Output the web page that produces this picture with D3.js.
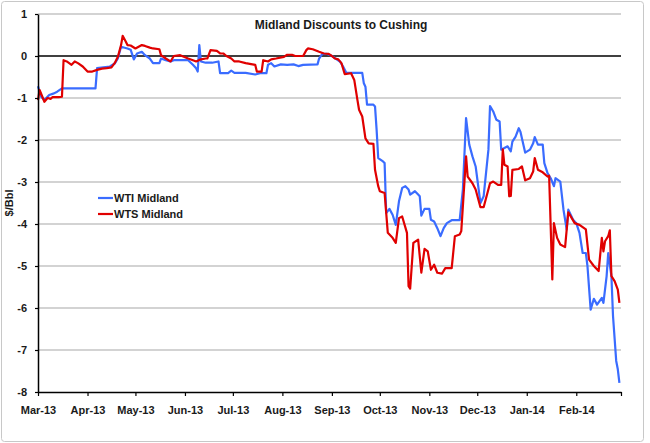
<!DOCTYPE html>
<html>
<head>
<meta charset="utf-8">
<script src="https://cdn.jsdelivr.net/npm/d3@7"></script>
<style>
  body { margin: 0; background: #fff; }
  svg text { font-family: "Liberation Sans", Arial, sans-serif; font-weight: bold; fill: #1a1a1a; }
</style>
</head>
<body>
<svg id="chart" width="650" height="443"></svg>
<script>
const title = 'Midland Discounts to Cushing';
const yTitle = '$/Bbl';
const seriesNames = ['WTI Midland', 'WTS Midland'];
const yTicks = [1, 0, -1, -2, -3, -4, -5, -6, -7, -8];
const monthTicks = ['2013-03-01', '2013-04-01', '2013-05-01', '2013-06-01', '2013-07-01', '2013-08-01',
  '2013-09-01', '2013-10-01', '2013-11-01', '2013-12-01', '2014-01-01', '2014-02-01', '2014-03-01'];

// WTI Midland
const wtiDates = ['2013-03-01', '2013-03-03', '2013-03-05', '2013-03-08', '2013-03-11', '2013-03-13', '2013-03-16',
  '2013-04-06', '2013-04-07', '2013-04-15', '2013-04-18', '2013-04-20', '2013-04-22', '2013-04-26', '2013-04-28',
  '2013-04-30', '2013-05-02', '2013-05-05', '2013-05-07', '2013-05-10', '2013-05-12', '2013-05-16', '2013-05-17',
  '2013-05-20', '2013-05-23', '2013-05-25', '2013-06-01', '2013-06-03', '2013-06-06', '2013-06-08', '2013-06-09',
  '2013-06-10', '2013-06-11', '2013-06-14', '2013-06-18', '2013-06-22', '2013-06-23', '2013-06-28', '2013-06-30',
  '2013-07-02', '2013-07-09', '2013-07-15', '2013-07-18', '2013-07-22', '2013-07-23', '2013-07-25', '2013-07-27',
  '2013-07-31', '2013-08-04', '2013-08-08', '2013-08-11', '2013-08-14', '2013-08-23', '2013-08-24', '2013-08-26',
  '2013-08-29', '2013-09-01', '2013-09-04', '2013-09-06', '2013-09-08', '2013-09-10', '2013-09-20', '2013-09-21',
  '2013-09-22', '2013-09-23', '2013-09-27', '2013-09-28', '2013-09-29', '2013-09-30', '2013-10-03', '2013-10-04',
  '2013-10-05', '2013-10-07', '2013-10-09', '2013-10-11', '2013-10-13', '2013-10-15', '2013-10-17', '2013-10-19',
  '2013-10-20', '2013-10-23', '2013-10-25', '2013-10-26', '2013-10-27', '2013-10-29', '2013-11-01', '2013-11-02',
  '2013-11-04', '2013-11-06', '2013-11-08', '2013-11-10', '2013-11-12', '2013-11-15', '2013-11-20', '2013-11-22',
  '2013-11-24', '2013-11-26', '2013-11-28', '2013-11-30', '2013-12-03', '2013-12-05', '2013-12-08', '2013-12-09',
  '2013-12-11', '2013-12-13', '2013-12-15', '2013-12-16', '2013-12-18', '2013-12-20', '2013-12-22', '2013-12-23',
  '2013-12-25', '2013-12-27', '2013-12-28', '2013-12-31', '2014-01-03', '2014-01-05', '2014-01-06', '2014-01-08',
  '2014-01-11', '2014-01-12', '2014-01-14', '2014-01-16', '2014-01-18', '2014-01-19', '2014-01-22', '2014-01-24',
  '2014-01-26', '2014-01-27', '2014-01-30', '2014-02-01', '2014-02-03', '2014-02-05', '2014-02-07', '2014-02-08',
  '2014-02-10', '2014-02-12', '2014-02-14', '2014-02-17', '2014-02-18', '2014-02-20', '2014-02-21', '2014-02-23',
  '2014-02-24', '2014-02-26', '2014-02-27', '2014-02-28'];
const wtiValues = [-0.72, -0.97, -1.05, -0.93, -0.89, -0.85, -0.77,
  -0.77, -0.29, -0.25, -0.18, -0.06, 0.22, 0.18, 0.15,
  -0.08, 0.06, 0.10, 0.02, -0.06, -0.17, -0.17, -0.06,
  -0.10, -0.13, -0.10, -0.10, -0.10, -0.21, -0.29, -0.37,
  0.26, -0.13, -0.16, -0.16, -0.13, -0.41, -0.41, -0.35,
  -0.40, -0.40, -0.44, -0.41, -0.41, -0.21, -0.17, -0.25,
  -0.20, -0.21, -0.20, -0.24, -0.21, -0.20, -0.06, 0.05,
  0.05, 0.00, -0.08, -0.13, -0.25, -0.40, -0.40, -0.65,
  -0.73, -1.16, -1.16, -1.20, -1.76, -2.43, -2.51, -2.55,
  -3.74, -3.64, -3.78, -4.02, -3.46, -3.14, -3.10, -3.18,
  -3.30, -3.22, -3.30, -3.34, -3.80, -3.64, -3.64, -3.90,
  -3.94, -4.10, -4.29, -4.10, -3.98, -3.91, -3.91, -3.18,
  -1.48, -2.11, -2.39, -2.63, -3.50, -3.34, -2.23, -1.19,
  -1.32, -1.52, -1.56, -2.23, -2.19, -2.15, -2.27, -2.04,
  -1.92, -1.72, -1.80, -2.30, -2.23, -2.08, -1.93, -2.11,
  -2.11, -2.55, -2.79, -2.91, -3.10, -2.91, -2.99, -3.66,
  -4.13, -3.66, -3.90, -3.98, -4.21, -4.69, -4.69, -5.00,
  -6.04, -5.78, -5.92, -5.76, -5.88, -5.24, -4.69, -5.24,
  -6.19, -7.26, -7.46, -7.78];

// WTS Midland
const wtsDates = ['2013-03-01', '2013-03-02', '2013-03-05', '2013-03-07', '2013-03-09', '2013-03-10', '2013-03-14',
  '2013-03-16', '2013-03-17', '2013-03-19', '2013-03-22', '2013-03-24', '2013-03-26', '2013-03-29', '2013-04-01',
  '2013-04-04', '2013-04-07', '2013-04-10', '2013-04-13', '2013-04-16', '2013-04-18', '2013-04-20', '2013-04-22',
  '2013-04-23', '2013-04-25', '2013-04-26', '2013-04-28', '2013-05-01', '2013-05-03', '2013-05-05', '2013-05-07',
  '2013-05-10', '2013-05-12', '2013-05-16', '2013-05-17', '2013-05-20', '2013-05-23', '2013-05-25', '2013-05-29',
  '2013-06-03', '2013-06-06', '2013-06-08', '2013-06-11', '2013-06-14', '2013-06-15', '2013-06-17', '2013-06-21',
  '2013-06-23', '2013-06-25', '2013-06-27', '2013-06-30', '2013-07-02', '2013-07-05', '2013-07-09', '2013-07-15',
  '2013-07-16', '2013-07-19', '2013-07-20', '2013-07-23', '2013-07-25', '2013-07-28', '2013-08-02', '2013-08-04',
  '2013-08-07', '2013-08-09', '2013-08-14', '2013-08-16', '2013-08-17', '2013-08-20', '2013-08-24', '2013-08-27',
  '2013-08-30', '2013-09-01', '2013-09-03', '2013-09-05', '2013-09-07', '2013-09-09', '2013-09-13', '2013-09-15',
  '2013-09-17', '2013-09-18', '2013-09-20', '2013-09-22', '2013-09-24', '2013-09-27', '2013-09-28', '2013-09-30',
  '2013-10-01', '2013-10-04', '2013-10-06', '2013-10-09', '2013-10-11', '2013-10-13', '2013-10-15', '2013-10-18',
  '2013-10-19', '2013-10-20', '2013-10-22', '2013-10-25', '2013-10-27', '2013-10-29', '2013-10-31', '2013-11-02',
  '2013-11-04', '2013-11-06', '2013-11-09', '2013-11-11', '2013-11-15', '2013-11-17', '2013-11-20', '2013-11-21',
  '2013-11-24', '2013-11-25', '2013-11-28', '2013-11-30', '2013-12-03', '2013-12-05', '2013-12-09', '2013-12-11',
  '2013-12-14', '2013-12-16', '2013-12-17', '2013-12-18', '2013-12-20', '2013-12-21', '2013-12-22', '2013-12-23',
  '2013-12-27', '2013-12-29', '2013-12-31', '2014-01-03', '2014-01-05', '2014-01-06', '2014-01-08', '2014-01-11',
  '2014-01-14', '2014-01-15', '2014-01-17', '2014-01-18', '2014-01-20', '2014-01-22', '2014-01-25', '2014-01-27',
  '2014-01-31', '2014-02-03', '2014-02-07', '2014-02-09', '2014-02-12', '2014-02-15', '2014-02-17', '2014-02-18',
  '2014-02-19', '2014-02-21', '2014-02-22', '2014-02-23', '2014-02-25', '2014-02-27', '2014-02-28'];
const wtsValues = [-1.05, -0.81, -1.09, -1.00, -1.02, -0.98, -0.98,
  -0.97, -0.10, -0.13, -0.21, -0.13, -0.17, -0.25, -0.37,
  -0.37, -0.33, -0.30, -0.29, -0.27, -0.17, -0.02, 0.26,
  0.48, 0.34, 0.26, 0.25, 0.18, 0.22, 0.26, 0.24,
  0.20, 0.18, 0.16, 0.02, -0.06, -0.13, 0.00, 0.02,
  -0.06, -0.10, -0.13, -0.08, -0.06, -0.06, 0.14, 0.12,
  0.06, 0.06, 0.00, -0.06, -0.13, -0.13, -0.17, -0.21,
  -0.37, -0.37, -0.10, -0.13, -0.08, -0.06, -0.02, 0.03,
  0.03, 0.00, 0.00, 0.14, 0.18, 0.16, 0.10, 0.06,
  0.05, 0.00, -0.06, -0.08, -0.17, -0.43, -0.41, -0.57,
  -1.05, -1.28, -1.44, -1.96, -2.08, -2.09, -2.71, -3.10,
  -3.22, -3.26, -4.21, -4.33, -4.45, -3.86, -3.82, -4.21,
  -5.48, -5.54, -4.45, -4.37, -5.16, -4.59, -4.65, -5.09,
  -4.97, -5.16, -5.18, -5.05, -5.05, -4.29, -4.25, -4.17,
  -2.39, -2.87, -3.03, -3.18, -3.60, -3.60, -3.03, -2.99,
  -3.07, -3.07, -2.22, -2.59, -2.63, -3.34, -3.33, -2.71,
  -2.69, -2.63, -2.96, -2.91, -2.75, -2.43, -2.71, -2.77,
  -2.87, -2.85, -5.32, -3.98, -4.33, -4.49, -4.55, -3.72,
  -3.98, -4.02, -4.13, -4.85, -5.00, -5.12, -4.33, -4.65,
  -4.41, -4.29, -4.15, -5.24, -5.36, -5.56, -5.88];

const colors = ['#3a6cff', '#e00000'];

const parse = d3.utcParse('%Y-%m-%d');
const series = [
  wtiDates.map((d, i) => ({ date: parse(d), value: wtiValues[i] })),
  wtsDates.map((d, i) => ({ date: parse(d), value: wtsValues[i] }))
];

const svg = d3.select('#chart');
const plotLeft = 38, plotRight = 621, plotTop = 14, plotBottom = 392;

// outer frame
svg.append('rect')
  .attr('x', 1.5).attr('y', 1.5)
  .attr('width', 642).attr('height', 440)
  .attr('rx', 3)
  .attr('fill', '#fff')
  .attr('stroke', '#c8c8c8');

const x = d3.scaleUtc()
  .domain([parse(monthTicks[0]), parse(monthTicks[monthTicks.length - 1])])
  .range([plotLeft, plotRight]);
const y = d3.scaleLinear().domain([-8, 1]).range([plotBottom, plotTop]);

// gridlines
svg.append('g')
  .selectAll('line')
  .data(yTicks.filter(v => v !== -8))
  .enter().append('line')
  .attr('x1', plotLeft).attr('x2', plotRight)
  .attr('y1', d => y(d)).attr('y2', d => y(d))
  .attr('stroke', d => d === 0 ? '#000' : '#c4c4c4')
  .attr('stroke-width', 1.3);

// lines
const line = d3.line().x(d => x(d.date)).y(d => y(d.value));
svg.append('g')
  .selectAll('path')
  .data(series)
  .enter().append('path')
  .attr('d', line)
  .attr('fill', 'none')
  .attr('stroke', (d, i) => colors[i])
  .attr('stroke-width', 2.2)
  .attr('stroke-linejoin', 'round');

// axes
const xAxis = d3.axisBottom(x)
  .tickValues(monthTicks.map(parse))
  .tickSize(4)
  .tickSizeOuter(0)
  .tickFormat((d, i) => i === monthTicks.length - 1 ? '' : d3.utcFormat('%b-%y')(d));
const gx = svg.append('g').attr('transform', `translate(0,${plotBottom})`).call(xAxis);
gx.select('.domain').attr('stroke', '#000').attr('stroke-width', 1.5);
gx.selectAll('.tick line').attr('stroke', '#000').attr('stroke-width', 1.2);
gx.selectAll('.tick text').attr('dy', 0).attr('y', 22).attr('font-size', 11).attr('fill', '#1a1a1a');

const yAxis = d3.axisLeft(y)
  .tickValues(yTicks)
  .tickSize(3)
  .tickSizeOuter(0)
  .tickFormat(d => String(d));
const gy = svg.append('g').attr('transform', `translate(${plotLeft},0)`).call(yAxis);
gy.select('.domain').attr('stroke', '#000').attr('stroke-width', 1.5);
gy.selectAll('.tick line').attr('stroke', '#000').attr('stroke-width', 1.2);
gy.selectAll('.tick text').attr('x', -11).attr('font-size', 11).attr('fill', '#1a1a1a');

// title
svg.append('text')
  .attr('x', 341).attr('y', 29)
  .attr('text-anchor', 'middle')
  .attr('font-size', 12)
  .text(title);

svg.append('text')
  .attr('transform', `translate(13,${(plotTop + plotBottom) / 2}) rotate(-90)`)
  .attr('text-anchor', 'middle')
  .attr('font-size', 11)
  .text(yTitle);

// legend
const legend = svg.append('g')
  .selectAll('g')
  .data(seriesNames)
  .enter().append('g')
  .attr('transform', (d, i) => `translate(98,${198 + i * 16})`);
legend.append('line')
  .attr('x1', 0).attr('x2', 15)
  .attr('stroke', (d, i) => colors[i])
  .attr('stroke-width', 2.2);
legend.append('text')
  .attr('x', 16).attr('dy', '0.35em')
  .attr('font-size', 11)
  .text(d => d);
</script>
</body>
</html>
